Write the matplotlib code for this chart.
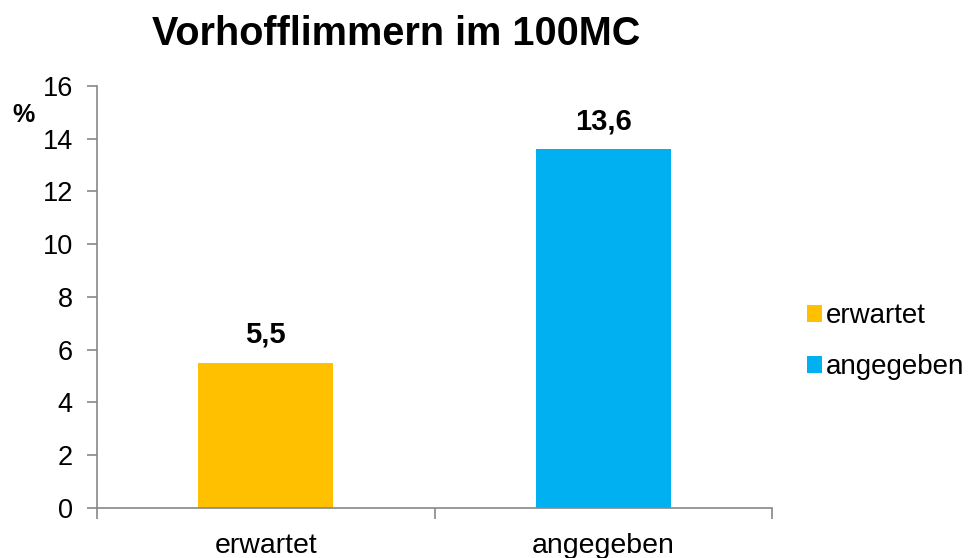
import matplotlib
matplotlib.use('Agg')
from matplotlib import pyplot as plt
from matplotlib.patches import Patch

categories = ['erwartet', 'angegeben']
values = [5.5, 13.6]
value_labels = ['5,5', '13,6']
colors = ['#FFC000', '#00B0F0']
yticks = [0, 2, 4, 6, 8, 10, 12, 14, 16]

plt.rcParams['font.family'] = ['Liberation Sans', 'DejaVu Sans']

fig = plt.figure(figsize=(9.71, 5.58), dpi=100)
ax = fig.add_axes([0.100, 0.090, 0.695, 0.756])

x = list(range(len(categories)))
ax.bar(x, values, width=0.4, color=colors, zorder=2)

for xi, v, lab in zip(x, values, value_labels):
    ax.annotate(lab, (xi, v), xytext=(0, 10), textcoords='offset points',
                ha='center', va='bottom', fontsize=21, fontweight='bold')

ax.set_xlim(-0.5, 1.5)
ax.set_ylim(0, 16)
ax.set_yticks(yticks)
ax.set_yticklabels([str(t) for t in yticks], fontsize=19.5)

# category labels between boundary ticks
ax.set_xticks([-0.5, 0.5, 1.5])
ax.set_xticklabels(['', '', ''])
ax.set_xticks(x, minor=True)
ax.set_xticklabels(categories, minor=True, fontsize=20.5)
ax.tick_params(axis='x', which='minor', length=0, pad=18)
ax.tick_params(axis='x', which='major', length=8, width=1.2, color='#888888', direction='out')
ax.tick_params(axis='y', length=7.5, width=1.2, color='#888888', direction='out', pad=10)

for side in ['top', 'right']:
    ax.spines[side].set_visible(False)
for side in ['left', 'bottom']:
    ax.spines[side].set_color('#888888')
    ax.spines[side].set_linewidth(1.2)

fig.text(0.024, 0.794, '%', fontsize=18, fontweight='bold', ha='center', va='center')
fig.text(0.408, 0.939, 'Vorhofflimmern im 100MC', fontsize=28.5, fontweight='bold',
         ha='center', va='center')

handles = [Patch(facecolor=c, edgecolor='none') for c in colors]
fig.legend(handles, categories, loc='center left', bbox_to_anchor=(0.831, 0.388),
           frameon=False, fontsize=20, handlelength=0.55, handleheight=0.55,
           handletextpad=0.15, labelspacing=0.9, borderaxespad=0, borderpad=0)

fig.savefig('out.png', dpi=100)
